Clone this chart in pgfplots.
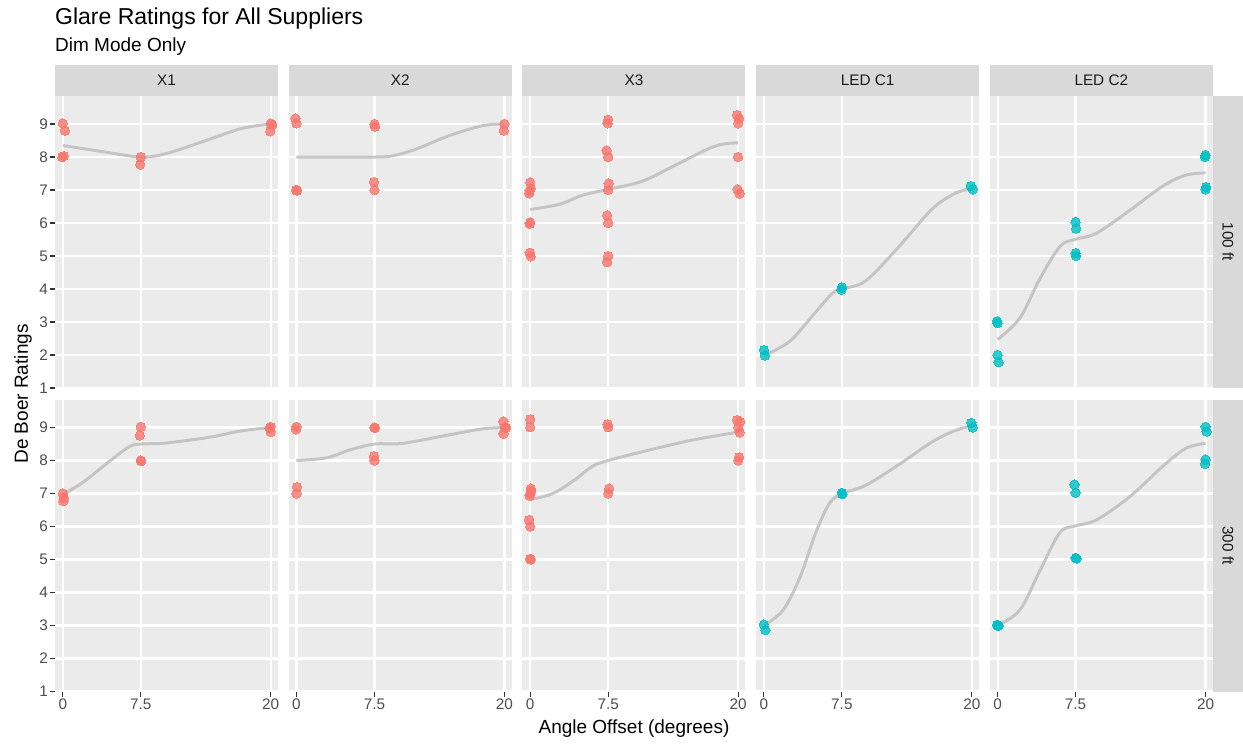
\documentclass[border=0pt]{standalone}
\usepackage{pgfplots}
\pgfplotsset{compat=1.18}
\usepackage{fontspec}
\setmainfont{Liberation Sans}
\definecolor{panelbg}{HTML}{EBEBEB}
\definecolor{stripbg}{HTML}{D9D9D9}
\definecolor{ptred}{HTML}{F8766D}
\definecolor{ptcyan}{HTML}{00BFC4}
\definecolor{curvecol}{HTML}{BEBEBE}
\definecolor{ticklab}{HTML}{4D4D4D}
\definecolor{tickcol}{HTML}{333333}
\definecolor{striptext}{HTML}{1A1A1A}
\pgfplotsset{
  facet/.style={
    scale only axis, width=223pt, height=292pt,
    anchor=north west,
    xmin=-0.75, xmax=20.7, ymin=1, ymax=9.85,
    xtick={0,7.5,20}, xticklabels={0,7.5,20},
    ytick={1,2,3,4,5,6,7,8,9}, yticklabels={1,2,3,4,5,6,7,8,9},
    grid=major, major grid style={white, line width=2.2pt},
    axis background/.style={fill=panelbg},
    axis line style={draw=none},
    tick align=outside, major tick length=5pt,
    tick style={tickcol, line width=1.1pt},
    xtick pos=left, ytick pos=left,
    tick label style={font=\fontsize{15.3}{16}\selectfont, text=ticklab, inner sep=2pt},
  },
  noy/.style={yticklabels={}, ymajorticks=false},
  nox/.style={xticklabels={}, xmajorticks=false},
  pts/.style={only marks, color=#1, mark=*, mark size=4.7pt, mark options={draw=#1, fill=#1, line width=0pt, opacity=0.8}},
  crv/.style={smooth, tension=0.55, no marks, draw=curvecol, line width=3pt, opacity=0.85},
}
\begin{document}
\begin{tikzpicture}
\useasboundingbox (0pt,0pt) rectangle (1243pt,-744pt);

% ---------------- row 1 : 100 ft ----------------
\begin{axis}[facet, nox, at={(55pt,-96pt)}]
\addplot[pts=ptred] coordinates {(0.0,9.02) (0.2,8.8) (-0.05,8.0) (0.1,8.03) (7.5,8.0) (7.45,7.77) (20.0,9.02) (20.15,8.97) (19.95,8.78)};
\addplot[crv] coordinates {(0,8.35) (3.5,8.18) (7.5,8.0) (10,8.11) (13.75,8.5) (17.25,8.87) (20,9.0)};
\end{axis}
\begin{axis}[facet, nox, noy, at={(288.7pt,-96pt)}]
\addplot[pts=ptred] coordinates {(-0.1,9.17) (0.0,9.02) (-0.05,7.0) (0.05,6.98) (7.5,9.0) (7.55,8.92) (7.45,7.24) (7.5,7.0) (20.0,9.0) (19.95,8.8)};
\addplot[crv] coordinates {(0,8.0) (3.75,8.0) (7.5,8.0) (9.3,8.04) (11.5,8.24) (14.7,8.65) (17.9,8.95) (20,9.0)};
\end{axis}
\begin{axis}[facet, nox, noy, at={(522.4pt,-96pt)}]
\addplot[pts=ptred] coordinates {(0,7.23) (0.05,7.05) (-0.05,6.98) (-0.1,6.9) (0.0,6.02) (-0.05,5.98) (-0.05,5.1) (0.05,4.99)
 (7.5,9.13) (7.45,9.02) (7.35,8.2) (7.5,8.0) (7.55,7.2) (7.5,7.0) (7.4,6.23) (7.5,6.0) (7.5,5.0) (7.4,4.81)
 (19.9,9.27) (20.1,9.17) (20.0,9.02) (20.0,8.0) (19.95,7.02) (20.15,6.89)};
\addplot[crv] coordinates {(0,6.41) (2.83,6.57) (5.1,6.85) (7.5,7.02) (10.8,7.27) (14,7.76) (17.2,8.26) (18.7,8.4) (20,8.43)};
\end{axis}
\begin{axis}[facet, nox, noy, at={(756.1pt,-96pt)}]
\addplot[pts=ptcyan] coordinates {(0.0,2.15) (0.1,1.98) (7.5,4.05) (7.45,3.98) (19.9,7.12) (20.1,7.02)};
\addplot[crv] coordinates {(0,1.98) (2.5,2.42) (5,3.31) (6.6,3.87) (7.5,4.0) (9.8,4.25) (13,5.29) (16.2,6.43) (18.4,6.9) (20,7.05)};
\end{axis}
\begin{axis}[facet, nox, noy, at={(989.8pt,-96pt)}]
\addplot[pts=ptcyan] coordinates {(-0.05,3.02) (0.0,2.97) (0.0,2.0) (0.1,1.78) (7.5,6.03) (7.55,5.83) (7.5,5.09) (7.55,5.0) (20.0,8.06) (19.95,8.0) (20.05,7.09) (20.0,7.02)};
\addplot[crv] coordinates {(0,2.47) (2.14,3.12) (4.05,4.3) (6.0,5.29) (7.5,5.51) (9.5,5.69) (12.7,6.38) (15.9,7.12) (18.1,7.45) (20,7.52)};
\end{axis}

% ---------------- row 2 : 300 ft ----------------
\begin{axis}[facet, at={(55pt,-399.5pt)}]
\addplot[pts=ptred] coordinates {(0,7.0) (0.1,6.87) (0.05,6.77) (7.5,9.02) (7.4,8.76) (7.5,8.0) (7.55,7.98) (20.0,9.02) (19.9,8.98) (20.0,8.87)};
\addplot[crv] coordinates {(0,6.98) (1.9,7.33) (4.5,7.98) (6.4,8.42) (7.5,8.5) (9.9,8.53) (14,8.7) (17.2,8.9) (20,9.0)};
\end{axis}
\begin{axis}[facet, noy, at={(288.7pt,-399.5pt)}]
\addplot[pts=ptred] coordinates {(0,9.02) (-0.05,8.94) (0.05,7.2) (0,7.0) (7.5,9.0) (7.55,8.99) (7.45,8.13) (7.5,8.0) (19.9,9.18) (20.05,9.0) (20.15,9.0) (19.9,8.81)};
\addplot[crv] coordinates {(0,8.0) (2.87,8.08) (5.1,8.32) (7.5,8.5) (10.2,8.52) (14.7,8.78) (17.9,8.96) (20,9.0)};
\end{axis}
\begin{axis}[facet, noy, at={(522.4pt,-399.5pt)}]
\addplot[pts=ptred] coordinates {(0,9.25) (0,9.01) (0.05,7.15) (0.1,7.08) (0,7.0) (-0.05,6.93) (-0.1,6.2) (0,6.0) (0,5.02) (0.05,5.0)
 (7.45,9.1) (7.5,9.01) (7.6,7.15) (7.5,7.0)
 (19.9,9.23) (20.2,9.18) (20.0,9.0) (20.15,8.85) (20.1,8.1) (20.0,8.0)};
\addplot[crv] coordinates {(0,6.82) (2.17,7.0) (4.4,7.44) (6.0,7.83) (7.5,8.0) (10.8,8.27) (15.6,8.62) (20,8.86)};
\end{axis}
\begin{axis}[facet, noy, at={(756.1pt,-399.5pt)}]
\addplot[pts=ptcyan] coordinates {(0.0,3.03) (0.15,2.86) (7.5,7.02) (7.55,6.98) (19.95,9.14) (20.1,9.0)};
\addplot[crv] coordinates {(0,3.0) (1.85,3.47) (3.45,4.45) (5,5.82) (6.3,6.7) (7.5,7.0) (9.8,7.25) (13,7.88) (16.2,8.57) (18.4,8.91) (20,9.05)};
\end{axis}
\begin{axis}[facet, noy, at={(989.8pt,-399.5pt)}]
\addplot[pts=ptcyan] coordinates {(-0.05,3.02) (0.05,2.99) (0.1,3.0) (7.4,7.27) (7.5,7.02) (7.5,5.05) (7.6,5.03) (20.0,9.02) (20.1,8.88) (20.0,8.03) (19.95,7.9)};
\addplot[crv] coordinates {(0,3.0) (2.14,3.47) (4.05,4.65) (6,5.82) (7.5,6.02) (9.5,6.2) (12.7,6.9) (15.9,7.83) (18.1,8.37) (20,8.52)};
\end{axis}

% ---------------- strips ----------------
\foreach \xo/\lab in {55/X1, 288.7/X2, 522.4/X3, 756.1/LED C1, 989.8/LED C2}{
  \fill[stripbg] (\xo pt,-65pt) rectangle ({\xo pt+223pt},-96pt);
  \node[text=striptext, font=\fontsize{15.3}{16}\selectfont] at ({\xo pt+111.5pt},-80.5pt) {\lab};
}
\fill[stripbg] (1212.8pt,-96pt) rectangle (1243pt,-388pt);
\node[rotate=-90, text=striptext, font=\fontsize{15.3}{16}\selectfont] at (1228pt,-242pt) {100 ft};
\fill[stripbg] (1212.8pt,-399.5pt) rectangle (1243pt,-691.5pt);
\node[rotate=-90, text=striptext, font=\fontsize{15.3}{16}\selectfont] at (1228pt,-545.5pt) {300 ft};

% ---------------- titles ----------------
\node[anchor=base west, inner sep=0pt, font=\fontsize{23}{26}\selectfont] at (55pt,-24.5pt) {Glare Ratings for All Suppliers};
\node[anchor=base west, inner sep=0pt, font=\fontsize{19}{22}\selectfont] at (55pt,-51.5pt) {Dim Mode Only};
\node[rotate=90, inner sep=0pt, font=\fontsize{19}{22}\selectfont] at (23pt,-394pt) {De Boer Ratings};
\node[anchor=base, inner sep=0pt, font=\fontsize{19}{22}\selectfont] at (634pt,-733.5pt) {Angle Offset (degrees)};
\end{tikzpicture}
\end{document}
